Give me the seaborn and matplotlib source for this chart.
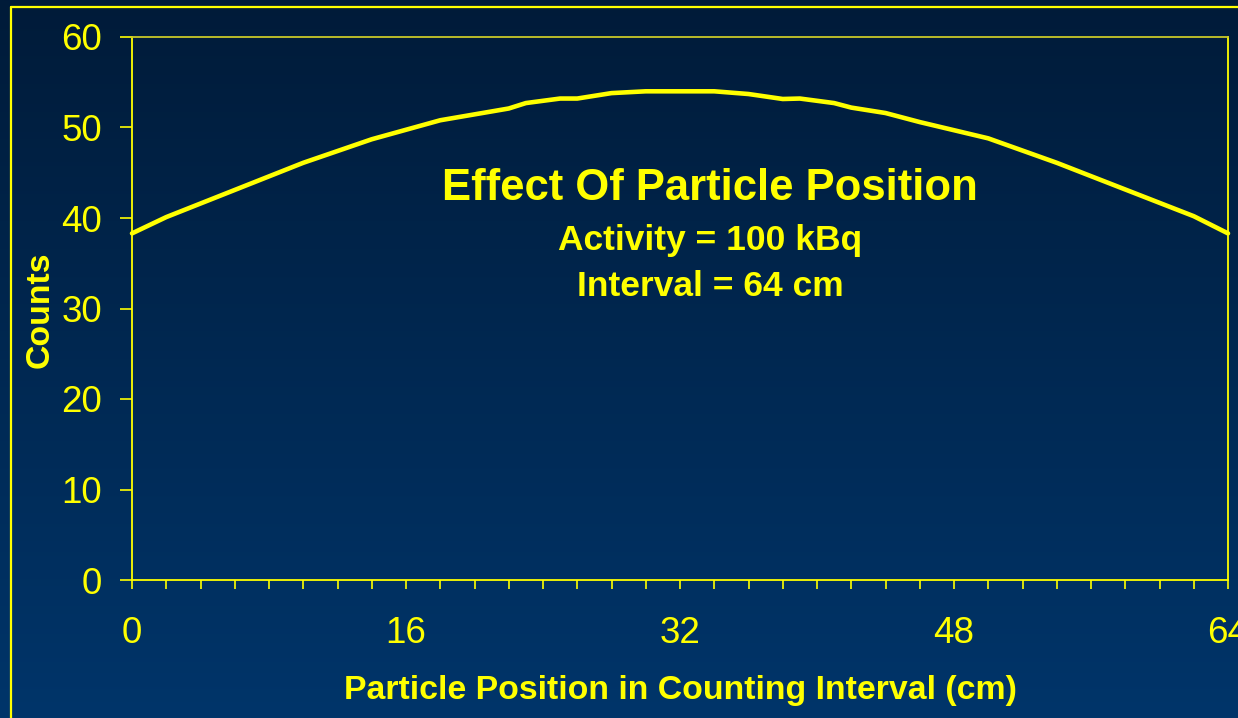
import numpy as np
import pandas as pd
import matplotlib
matplotlib.use("Agg")
import matplotlib.pyplot as plt
from matplotlib.lines import Line2D
from matplotlib.ticker import MultipleLocator, FixedLocator
import seaborn as sns

# Particle position along the 64 cm counting interval and the counts recorded
position_cm = [0, 2, 10, 14, 18, 22, 23, 25, 26, 28, 30, 34, 36, 38, 39,
               41, 42, 44, 46, 50, 54, 62, 64]
counts = [38.3, 40.1, 46.1, 48.7, 50.8, 52.1, 52.7, 53.2, 53.2, 53.8, 54.0,
          54.0, 53.7, 53.15, 53.2, 52.7, 52.2, 51.6, 50.6, 48.8, 46.1, 40.2, 38.3]
x_tick_labels = [0, 16, 32, 48, 64]
y_tick_labels = [0, 10, 20, 30, 40, 50, 60]

title = "Effect Of Particle Position"
subtitle_1 = "Activity = 100 kBq"
subtitle_2 = "Interval = 64 cm"

YELLOW = "#FFFF00"

sns.set_theme(style="white")
plt.rcParams["font.family"] = ["Liberation Sans", "DejaVu Sans"]

df = pd.DataFrame({"position": position_cm, "counts": counts})

W, H, DPI = 1238, 718, 100
fig = plt.figure(figsize=(W / DPI, H / DPI), dpi=DPI)

# Navy vertical gradient behind everything
bg = fig.add_axes([0, 0, 1, 1], zorder=-10)
top_col = np.array([0, 27, 57]) / 255.0
bot_col = np.array([0, 53, 106]) / 255.0
t = np.linspace(0, 1, 256)[:, None]
grad = top_col[None, :] * (1 - t) + bot_col[None, :] * t
bg.imshow(grad[:, None, :], aspect="auto", extent=[0, 1, 0, 1], origin="upper")
bg.set_axis_off()

# Outer slide frame (top and left edges)
fx0, fy0 = 11 / W, 1 - 7 / H
fig.add_artist(Line2D([fx0, 1.0], [fy0, fy0], color=YELLOW, lw=1.6,
                      transform=fig.transFigure))
fig.add_artist(Line2D([fx0, fx0], [fy0, 0.0], color=YELLOW, lw=1.6,
                      transform=fig.transFigure))

left, right = 132 / W, 1228 / W
top, bottom = 1 - 37 / H, 1 - 580 / H
ax = fig.add_axes([left, bottom, right - left, top - bottom])
ax.set_facecolor("none")

sns.lineplot(data=df, x="position", y="counts", ax=ax, color=YELLOW,
             linewidth=3.3, solid_joinstyle="round", solid_capstyle="round",
             clip_on=False)

ax.set_xlim(0, 64)
ax.set_ylim(0, 60)

ax.xaxis.set_major_locator(FixedLocator(x_tick_labels))
ax.xaxis.set_minor_locator(MultipleLocator(2))
ax.yaxis.set_major_locator(FixedLocator(y_tick_labels))

ax.tick_params(axis="x", which="both", direction="out", length=6.5, width=1.2,
               color=YELLOW, labelcolor=YELLOW, labelsize=26.5, pad=19.5,
               bottom=True)
ax.tick_params(axis="y", which="major", direction="out", length=8.6, width=1.2,
               color=YELLOW, labelcolor=YELLOW, labelsize=26.5, pad=13, left=True)

for side in ["left", "bottom", "top", "right"]:
    ax.spines[side].set_visible(True)
    ax.spines[side].set_color(YELLOW)
    ax.spines[side].set_linewidth(1.3)
ax.spines["top"].set_color("#c8c828")

ax.set_xlabel("Particle Position in Counting Interval (cm)", color=YELLOW,
              fontsize=24.4, fontweight="bold")
ax.set_ylabel("Counts", color=YELLOW, fontsize=24.4, fontweight="bold")
ax.xaxis.set_label_coords(0.5, (580 - 691) / (580 - 37))
ax.yaxis.set_label_coords((40 - 132) / (1228 - 132), (580 - 310) / (580 - 37))
ax.xaxis.label.set_verticalalignment("center")
ax.yaxis.label.set_verticalalignment("center")

cx = 710 / W
fig.text(cx, 1 - 189 / H, title, color=YELLOW, fontsize=31.4,
         fontweight="bold", ha="center", va="center")
fig.text(cx, 1 - 240 / H, subtitle_1, color=YELLOW, fontsize=25.5,
         fontweight="bold", ha="center", va="center")
fig.text(cx, 1 - 287 / H, subtitle_2, color=YELLOW, fontsize=25.5,
         fontweight="bold", ha="center", va="center")

fig.savefig("out.png", dpi=DPI)
